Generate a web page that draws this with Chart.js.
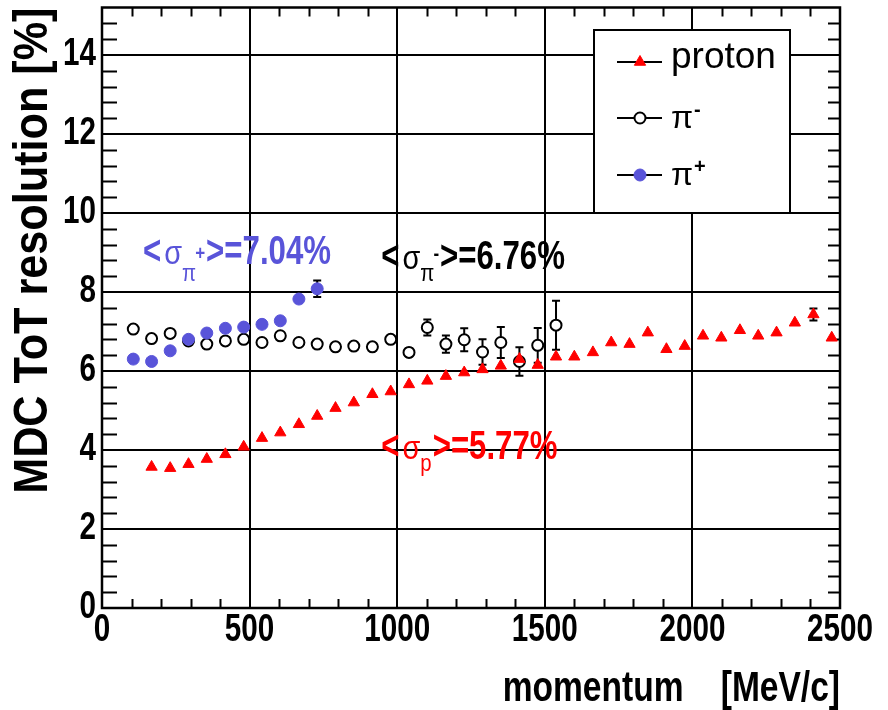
<!DOCTYPE html>
<html><head><meta charset="utf-8">
<script src="https://cdn.jsdelivr.net/npm/chart.js@4.4.1/dist/chart.umd.min.js"></script>
<style>html,body{margin:0;padding:0;background:#fff;}#wrap{width:888px;height:710px;position:relative;}</style>
</head><body><div id="wrap"><canvas id="c" width="888" height="710"></canvas></div>
<script>
// ---------- data ----------
const protonP   = [168,231,293,355,418,480,542,604,667,729,791,853,916,978,1040,1102,1165,1227,1289,1351,1414,1476,1538,1600,1663,1725,1787,1849,1912,1974,2036,2098,2161,2223,2285,2347,2410,2472];
const protonRes = [3.57,3.54,3.64,3.77,3.89,4.08,4.30,4.44,4.65,4.86,5.06,5.20,5.41,5.48,5.66,5.75,5.87,5.96,6.04,6.13,6.30,6.15,6.36,6.36,6.47,6.72,6.68,6.97,6.55,6.63,6.89,6.84,7.03,6.89,6.97,7.22,7.43,6.84];
const protonErr = [0,0,0,0,0,0,0,0,0,0,0,0,0,0,0,0,0,0,0,0,0,0,0,0,0,0,0,0,0,0,0,0,0,0,0,0,0.15,0];

const piMinusP   = [106,168,231,293,355,418,480,542,604,667,729,791,853,916,978,1040,1102,1165,1227,1289,1351,1414,1476,1538];
const piMinusRes = [7.06,6.82,6.95,6.76,6.68,6.76,6.80,6.72,6.89,6.72,6.68,6.61,6.63,6.61,6.80,6.47,7.10,6.68,6.79,6.48,6.72,6.24,6.65,7.16];
const piMinusErr = [0.05,0.05,0.05,0.05,0.05,0.05,0.05,0.05,0.05,0.05,0.05,0.05,0.05,0.05,0.08,0.10,0.20,0.22,0.29,0.32,0.39,0.36,0.44,0.62];

const piPlusP   = [106,168,231,293,355,418,480,542,604,667,729];
const piPlusRes = [6.30,6.24,6.51,6.80,6.96,7.08,7.11,7.18,7.27,7.82,8.08];
const piPlusErr = [0,0,0,0,0,0,0,0,0,0.05,0.21];

const seriesLabels = ['proton','π⁻','π⁺'];
const xTickValues = [0,500,1000,1500,2000,2500];
const yTickValues = [0,2,4,6,8,10,12,14];
const xTitle = 'momentum    [MeV/c]';
const yTitle = 'MDC ToT resolution [%]';
const meanLabels = [
  {parts:['<','σ','π','+','>=7.04%'], color:'#5954d9', at:[139,8.71]},
  {parts:['<','σ','π','-','>=6.76%'], color:'#000000', at:[946,8.58]},
  {parts:['<','σ','p','','>=5.77%'],  color:'#ff0000', at:[946,3.77]}
];

// ---------- styling ----------
const RED='#ff0000', BLUE='#5954d9', BLACK='#000000';
const SANS = "'Liberation Sans', Arial, sans-serif";
const Y_MAX = 15.2;
const DEFAULT_COND = 0.78;
let COND = DEFAULT_COND;   // horizontal text compression (condensed Helvetica look)
const TEXT_COND = {};
TEXT_COND[yTitle] = 0.9;

function pts(xs, ys){ return xs.map((x,i)=>({x:x, y:ys[i]})); }

const condense = {
  id:'condense',
  beforeInit(chart){
    const c = chart.ctx;
    const orig = c.fillText.bind(c);
    c.fillText = function(t,x,y){
      const f = (COND!==1 && TEXT_COND[t]) || COND;
      if(f===1) return orig(t,x,y);
      c.save(); c.translate(x,y); c.scale(f,1); orig(t,0,0); c.restore();
    };
  }
};

const errorBars = {
  id:'errorBars',
  beforeDatasetsDraw(chart){
    const {ctx, scales:{x,y}} = chart;
    ctx.save();
    ctx.strokeStyle = BLACK; ctx.lineWidth = 2;
    chart.data.datasets.forEach(ds=>{
      const errs = ds.errors || [];
      ds.data.forEach((p,i)=>{
        const e = errs[i]; if(!e) return;
        const px = x.getPixelForValue(p.x);
        const y1 = y.getPixelForValue(p.y+e), y2 = y.getPixelForValue(p.y-e);
        ctx.beginPath();
        ctx.moveTo(px,y1); ctx.lineTo(px,y2);
        ctx.moveTo(px-4,y1); ctx.lineTo(px+4,y1);
        ctx.moveTo(px-4,y2); ctx.lineTo(px+4,y2);
        ctx.stroke();
      });
    });
    ctx.restore();
  }
};

const frame = {
  id:'frame',
  beforeDatasetsDraw(chart){
    const {ctx, chartArea:a, scales:{x,y}} = chart;
    ctx.save();
    ctx.strokeStyle = BLACK;
    ctx.lineWidth = 2;
    ctx.beginPath();
    for(let k=1; k*0.4<Y_MAX-1e-6; k++){
      const v = k*0.4; if(Math.abs(v/2-Math.round(v/2))<1e-6) continue;
      const py = Math.round(y.getPixelForValue(v))+0.5;
      ctx.moveTo(a.left,py); ctx.lineTo(a.left+15,py);
      ctx.moveTo(a.right,py); ctx.lineTo(a.right-12,py);
    }
    for(let v=100; v<2500; v+=100){
      if(v%500===0) continue;
      const px = Math.round(x.getPixelForValue(v))+0.5;
      ctx.moveTo(px,a.bottom); ctx.lineTo(px,a.bottom-9);
      ctx.moveTo(px,a.top); ctx.lineTo(px,a.top+9);
    }
    ctx.stroke();
    ctx.lineWidth = 2.5;
    ctx.strokeRect(a.left, a.top, a.right-a.left, a.bottom-a.top);
    ctx.restore();
  }
};

function drawLabelText(ctx, label, x, y){
  if(label.startsWith('π')){
    ctx.font = '32px '+SANS;
    ctx.fillText('π', x, y+10);
    const w = ctx.measureText('π').width;
    ctx.font = 'bold 20px '+SANS;
    ctx.fillText(label.endsWith('⁻') ? '-' : '+', x+w+1, y-2);
  } else {
    ctx.font = '37px '+SANS;
    ctx.fillText(label, x, y+6);
  }
}

const legendBox = {
  id:'legendBox',
  afterDraw(chart){
    const {ctx} = chart;
    const bx=594, by=30, bw=196, bh=183;
    COND = 1;
    ctx.save();
    ctx.fillStyle='#fff'; ctx.fillRect(bx,by,bw,bh);
    ctx.strokeStyle=BLACK; ctx.lineWidth=2; ctx.strokeRect(bx,by,bw,bh);
    const rows=[62,118,175];
    chart.data.datasets.forEach((ds,i)=>{
      const ly = rows[i];
      ctx.strokeStyle=BLACK; ctx.lineWidth=2;
      ctx.beginPath(); ctx.moveTo(617,ly); ctx.lineTo(662,ly); ctx.stroke();
      ctx.fillStyle = ds.backgroundColor; ctx.strokeStyle = ds.borderColor; ctx.lineWidth = ds.borderWidth;
      Chart.helpers.drawPoint(ctx, {pointStyle: ds.pointStyle, radius: ds.pointRadius, borderWidth: ds.borderWidth, rotation:0}, 640, ly);
      ctx.fillStyle = BLACK; ctx.textBaseline='alphabetic'; ctx.textAlign='left';
      drawLabelText(ctx, ds.label, 671, ly);
    });
    ctx.restore();
    COND = DEFAULT_COND;
  }
};

const meanText = {
  id:'meanText',
  afterDraw(chart){
    const {ctx, scales:{x,y}} = chart;
    ctx.save();
    ctx.textBaseline='alphabetic'; ctx.textAlign='left';
    meanLabels.forEach(m=>{
      let px = x.getPixelForValue(m.at[0]);
      const base = y.getPixelForValue(m.at[1]);
      ctx.fillStyle = m.color;
      const [lt, sig, sub, sup, rest] = m.parts;
      COND = 0.78;
      ctx.font = 'bold 40px '+SANS; ctx.fillText(lt, px, base); px += ctx.measureText(lt).width*COND + 3;
      COND = 0.85;
      ctx.font = '34px '+SANS; ctx.fillText(sig, px, base); px += ctx.measureText(sig).width*COND;
      ctx.font = '24px '+SANS; const subDy = sup==='+' ? 17 : 12;
      ctx.fillText(sub, px, base+subDy); let w = ctx.measureText(sub).width*COND;
      if(sup){
        ctx.font='bold 20px '+SANS;
        ctx.fillText(sup, px+w-1, base + (sup==='+' ? -4 : -9));
        w = w - 1 + ctx.measureText(sup).width*COND;
      }
      px += w + 1;
      COND = 0.78;
      ctx.font = 'bold 40px '+SANS; ctx.fillText(rest, px, base);
    });
    COND = DEFAULT_COND;
    ctx.restore();
  }
};

const ctx = document.getElementById('c').getContext('2d');
new Chart(ctx, {
  type:'scatter',
  data:{datasets:[
    {label:seriesLabels[0], data:pts(protonP,protonRes), errors:protonErr, pointStyle:'triangle', pointRadius:6.5, backgroundColor:RED, borderColor:RED, borderWidth:1, order:1},
    {label:seriesLabels[1], data:pts(piMinusP,piMinusRes), errors:piMinusErr, pointStyle:'circle', pointRadius:5.5, backgroundColor:'#ffffff', borderColor:BLACK, borderWidth:2, order:2},
    {label:seriesLabels[2], data:pts(piPlusP,piPlusRes), errors:piPlusErr, pointStyle:'circle', pointRadius:6, backgroundColor:BLUE, borderColor:BLUE, borderWidth:1, order:0}
  ]},
  options:{
    responsive:false, animation:false, devicePixelRatio:1,
    layout:{padding:{top:5,right:48,left:0,bottom:0}},
    plugins:{legend:{display:false}, tooltip:{enabled:false}},
    scales:{
      x:{type:'linear', min:0, max:2500,
        afterBuildTicks:s=>{s.ticks = xTickValues.map(v=>({value:v}));},
        afterFit:s=>{s.height = 102; s.paddingLeft = 0; s.paddingRight = 0;},
        grid:{color:BLACK, lineWidth:2, drawTicks:false}, border:{display:false},
        ticks:{color:BLACK, padding:0, maxRotation:0, autoSkip:false, callback:v=>String(v), font:{family:SANS, weight:'bold', size:38}},
        title:{display:true, text:xTitle, align:'end', color:BLACK, padding:{top:0,bottom:0}, font:{family:SANS, weight:'bold', size:43, lineHeight:0.95}}
      },
      y:{type:'linear', min:0, max:Y_MAX,
        afterBuildTicks:s=>{s.ticks = yTickValues.map(v=>({value:v}));},
        afterFit:s=>{s.width = 102; s.paddingTop = 0; s.paddingBottom = 0;},
        grid:{color:BLACK, lineWidth:2, drawTicks:false}, border:{display:false},
        ticks:{color:BLACK, padding:6, autoSkip:false, callback:v=>String(v), font:{family:SANS, weight:'bold', size:38}},
        title:{display:true, text:yTitle, align:'end', color:BLACK, padding:{top:10,bottom:0}, font:{family:SANS, weight:'bold', size:48, lineHeight:1.0}}
      }
    }
  },
  plugins:[condense, frame, errorBars, legendBox, meanText]
});
</script></body></html>
